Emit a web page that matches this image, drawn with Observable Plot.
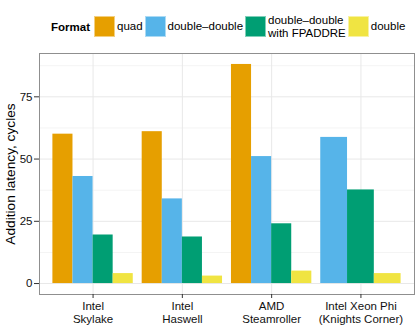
<!DOCTYPE html>
<html>
<head>
<meta charset="utf-8">
<script src="https://cdn.jsdelivr.net/npm/d3@7"></script>
<script src="https://cdn.jsdelivr.net/npm/@observablehq/plot@0.6"></script>
<style>
  html, body { margin: 0; padding: 0; background: #fff; }
  body { width: 415px; height: 332px; overflow: hidden; font-family: "Liberation Sans", Arial, sans-serif; }
  #legend { height: 43px; padding-top: 5px; padding-left: 51px; display: flex; align-items: center; font-size: 11.5px; color: #000; }
  #legend .title { font-weight: bold; margin-right: 4px; }
  #legend .sw { width: 21px; height: 21px; margin-right: 2px; flex: none; box-sizing: border-box; border: 1px solid rgba(255,255,255,0.5); }
  #legend .lab { margin-right: 2px; line-height: 12.5px; white-space: pre; }
  svg { display: block; }
</style>
</head>
<body>
<div id="legend"></div>
<div id="chart"></div>
<script>
const processors = ["Intel\nSkylake", "Intel\nHaswell", "AMD\nSteamroller", "Intel Xeon Phi\n(Knights Corner)"];
const formats = ["quad", "double\u2013double", "double\u2013double\nwith FPADDRE", "double"];
const quad = [60, 61, 88, null];
const doubleDouble = [43, 34, 51, 58.7];
const ddFpaddre = [19.5, 18.7, 24, 37.6];
const doublePrec = [4, 3, 5, 4];
const colors = ["#E69F00", "#56B4E9", "#009E73", "#F0E442"];
const yTicks = [0, 25, 50, 75];
const yMinor = [12.5, 37.5, 62.5, 87.5];
const yLabel = "Addition latency, cycles";

const series = [quad, doubleDouble, ddFpaddre, doublePrec];

// build dodged table (ggplot-style position_dodge)
const rows = [];
processors.forEach((p, g) => {
  const present = formats.map((f, s) => ({f, s, v: series[s][g]})).filter(d => d.v != null);
  const n = present.length;
  const w = 0.9 / n;
  present.forEach((d, i) => {
    const x1 = (g + 1) - 0.45 + i * w;
    rows.push({processor: p, format: d.f, value: d.v, x1, x2: x1 + w});
  });
});

// legend
const legend = document.getElementById("legend");
const t = document.createElement("span");
t.className = "title"; t.textContent = "Format";
legend.appendChild(t);
formats.forEach((f, i) => {
  const sw = document.createElement("span");
  sw.className = "sw"; sw.style.background = colors[i];
  legend.appendChild(sw);
  const lab = document.createElement("span");
  lab.className = "lab"; lab.textContent = f;
  legend.appendChild(lab);
});

const chart = Plot.plot({
  width: 415,
  height: 284,
  marginLeft: 39,
  marginRight: 1,
  marginTop: 5,
  marginBottom: 38,
  style: {fontFamily: "Liberation Sans, Arial, sans-serif", background: "#fff"},
  x: {domain: [0.4, 4.6]},
  y: {domain: [-4.4, 92.4]},
  color: {domain: formats, range: colors},
  marks: [
    Plot.ruleY(yMinor, {stroke: "#f4f4f4", strokeWidth: 1}),
    Plot.ruleY(yTicks, {stroke: "#e8e8e8", strokeWidth: 1}),
    Plot.ruleX(d3.range(1, processors.length + 1), {stroke: "#e8e8e8", strokeWidth: 1}),
    Plot.rectY(rows, {x1: "x1", x2: "x2", y1: 0, y2: "value", fill: "format"}),
    Plot.frame({stroke: "#8f8f8f", strokeWidth: 1}),
    Plot.axisX({
      ticks: d3.range(1, processors.length + 1),
      tickFormat: i => processors[i - 1],
      tickSize: 4, tickPadding: 3, fontSize: 11.5, lineHeight: 1.08,
      stroke: "#333", fill: "#111", label: null
    }),
    Plot.axisY({
      ticks: yTicks, tickSize: 5, tickPadding: 2, fontSize: 11.5,
      stroke: "#333", fill: "#111", label: null
    }),
    Plot.text([yLabel], {
      text: d => d, frameAnchor: "left", rotate: -90, dx: -28.5,
      fontSize: 13.7, fill: "#000", textAnchor: "middle", lineAnchor: "middle"
    })
  ]
});
document.getElementById("chart").appendChild(chart);
</script>
</body>
</html>
